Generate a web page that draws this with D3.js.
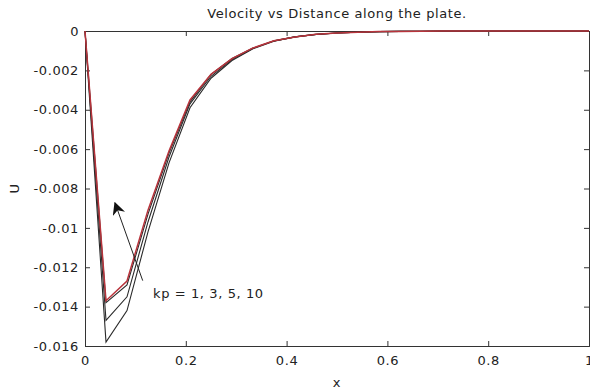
<!DOCTYPE html>
<html>
<head>
<meta charset="utf-8">
<script src="https://cdn.jsdelivr.net/npm/d3@7"></script>
<style>
  body { margin: 0; background: #fff; }
  text { font-family: "DejaVu Sans", sans-serif; fill: #222; letter-spacing: 0.6px; }
</style>
</head>
<body>
<div id="chart"></div>
<script>
// grid along the plate (25 points, step 1/24)
const xs = d3.range(25).map(i => i / 24);

// U values for each kp
const kp1  = [0, -0.0158, -0.0142, -0.0102, -0.0067, -0.0039, -0.0024, -0.0015, -0.0009, -0.00052, -0.0003, -0.00018, -0.0001, -0.00006, -0.00003, -0.00002, -0.00001, 0, 0, 0, 0, 0, 0, 0, 0];
const kp3  = [0, -0.0147, -0.0135, -0.0097, -0.0064, -0.0037, -0.0023, -0.00145, -0.00088, -0.0005, -0.0003, -0.00017, -0.0001, -0.00006, -0.00003, -0.00002, -0.00001, 0, 0, 0, 0, 0, 0, 0, 0];
const kp5  = [0, -0.0138, -0.0129, -0.0093, -0.0062, -0.0036, -0.0022, -0.0014, -0.00087, -0.0005, -0.0003, -0.00017, -0.0001, -0.00006, -0.00003, -0.00002, -0.00001, 0, 0, 0, 0, 0, 0, 0, 0];
const kp10 = [0, -0.0137, -0.0127, -0.0091, -0.0061, -0.0035, -0.0022, -0.0014, -0.00086, -0.0005, -0.0003, -0.00017, -0.0001, -0.00006, -0.00003, -0.00002, -0.00001, 0, 0, 0, 0, 0, 0, 0, 0];

const seriesNames = ["kp1", "kp3", "kp5", "kp10"];
const seriesColors = ["#2a2a2a", "#2a2a2a", "#2a2a2a", "#b8343c"];

const xTicks = [0, 0.2, 0.4, 0.6, 0.8, 1];
const yTicks = [0, -0.002, -0.004, -0.006, -0.008, -0.01, -0.012, -0.014, -0.016];

const titleText = "Velocity vs Distance along the plate.";
const noteText = "kp = 1, 3, 5, 10";

const margin = {top: 31, right: 1, bottom: 45, left: 85};
const W = 590, H = 391;
const width = W - margin.left - margin.right;
const height = H - margin.top - margin.bottom;

const svg = d3.select("#chart").append("svg")
    .attr("width", W)
    .attr("height", H);

const g = svg.append("g")
    .attr("transform", `translate(${margin.left},${margin.top})`);

const x = d3.scaleLinear().domain([0, 1]).range([0, width]);
const y = d3.scaleLinear().domain([-0.016, 0]).range([height, 0]);

const fmt = d => d === 0 ? "0" : String(d);

// bottom + left axes with inward ticks
g.append("g")
    .attr("transform", `translate(0,${height})`)
    .call(d3.axisBottom(x).tickValues(xTicks).tickSize(-5).tickPadding(10).tickFormat(fmt));
g.append("g")
    .call(d3.axisLeft(y).tickValues(yTicks).tickSize(-5).tickPadding(6).tickFormat(fmt));
// top + right mirror ticks
g.append("g")
    .call(d3.axisTop(x).tickValues(xTicks).tickSize(-5).tickFormat(""));
g.append("g")
    .attr("transform", `translate(${width},0)`)
    .call(d3.axisRight(y).tickValues(yTicks).tickSize(-5).tickFormat(""));

g.selectAll(".domain").attr("stroke", "#333");
g.selectAll(".tick line").attr("stroke", "#333");
g.selectAll(".tick text")
    .style("font-size", "13px")
    .style("font-family", "'DejaVu Sans', sans-serif")
    .attr("fill", "#222");

// lines
const line = d3.line()
    .x((d, i) => x(xs[i]))
    .y(d => y(d));

const allSeries = [kp1, kp3, kp5, kp10];
allSeries.forEach((s, k) => {
    g.append("path")
        .datum(s)
        .attr("class", "line " + seriesNames[k])
        .attr("fill", "none")
        .attr("stroke", seriesColors[k])
        .attr("stroke-width", k === 3 ? 1.5 : 1.1)
        .attr("d", line);
});

// annotation arrow
svg.append("defs").append("marker")
    .attr("id", "head")
    .attr("viewBox", "0 0 10 10")
    .attr("refX", 9).attr("refY", 5)
    .attr("markerWidth", 13).attr("markerHeight", 13)
    .attr("markerUnits", "userSpaceOnUse")
    .attr("orient", "auto")
  .append("path")
    .attr("d", "M0,0 L10,5 L0,10 L3,5 z")
    .attr("fill", "#111");

g.append("line")
    .attr("x1", x(0.1145)).attr("y1", y(-0.01268))
    .attr("x2", x(0.0595)).attr("y2", y(-0.00873))
    .attr("stroke", "#222")
    .attr("stroke-width", 1)
    .attr("marker-end", "url(#head)");

g.append("text")
    .attr("x", x(0.135))
    .attr("y", y(-0.0133) + 5)
    .style("font-size", "13px")
    .text(noteText);

// titles
svg.append("text")
    .attr("x", margin.left + width / 2)
    .attr("y", 18)
    .attr("text-anchor", "middle")
    .style("font-size", "13px")
    .text(titleText);

svg.append("text")
    .attr("x", margin.left + width / 2)
    .attr("y", 387)
    .attr("text-anchor", "middle")
    .style("font-size", "13px")
    .text("x");

svg.append("text")
    .attr("transform", `translate(19,${margin.top + height / 2}) rotate(-90)`)
    .attr("text-anchor", "middle")
    .style("font-size", "13px")
    .text("U");
</script>
</body>
</html>
